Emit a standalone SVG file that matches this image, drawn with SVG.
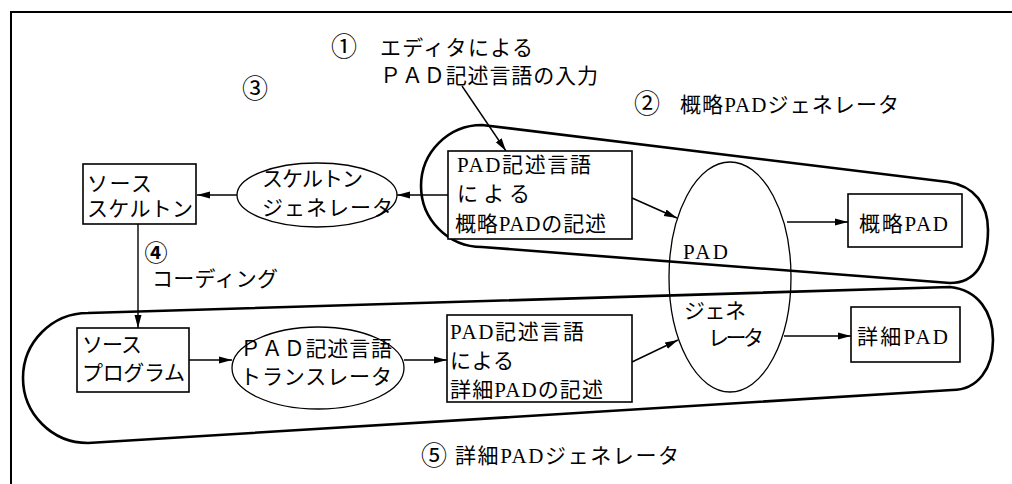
<svg xmlns="http://www.w3.org/2000/svg" width="1012" height="484" viewBox="0 0 1012 484">
<defs>
<marker id="ah" markerUnits="userSpaceOnUse" markerWidth="14" markerHeight="10" refX="13" refY="5" orient="auto">
<path d="M0,1.5 L13,5 L0,8.5 Z" fill="#000"/>
</marker>
</defs>
<style>
text{font-family:"Liberation Serif","Noto Sans CJK JP",serif;font-size:21px;fill:#000}
.num{font-family:"Noto Sans CJK JP",sans-serif;font-size:26px}
.box{fill:#fff;stroke:#000;stroke-width:1.6}
.ell{fill:#fff;stroke:#000;stroke-width:1.3}
.loop{fill:none;stroke:#000;stroke-width:2.6;stroke-linejoin:round}
.con{fill:none;stroke:#000;stroke-width:1.4;marker-end:url(#ah)}
</style>
<rect width="1012" height="484" fill="#fff"/>
<g id="frame"><path d="M11,484 L11,12 L1012,12" fill="none" stroke="#000" stroke-width="2"/></g>

<g id="regions">
<path class="loop" d="M482,125 L948,182 C975,186 988,205 988,230 C988,262 976,283 950,283 L482,247 A61,61 0 0 1 482,125 Z"/>
<path class="loop" d="M88,313 L950,287 C978,290 993,312 993,340 C993,368 978,390 952,390 L88,443 A65,65 0 0 1 88,313 Z"/>
</g>

<g id="labels">
<text class="num" x="344" y="56" text-anchor="middle">①</text>
<text x="380" y="55" textLength="153" lengthAdjust="spacing">エディタによる</text>
<text x="380" y="83" textLength="218" lengthAdjust="spacing">ＰＡＤ記述言語の入力</text>
<text class="num" x="647" y="113" text-anchor="middle">②</text>
<text x="680" y="112" textLength="219" lengthAdjust="spacing">概略PADジェネレータ</text>
<text class="num" x="255" y="98" text-anchor="middle">③</text>
<text class="num" x="156" y="261" text-anchor="middle" font-weight="bold" style="font-size:23px">④</text>
<text x="152" y="286" textLength="126" lengthAdjust="spacing">コーディング</text>
<text class="num" x="434" y="465" text-anchor="middle">⑤</text>
<text x="455" y="463" textLength="224" lengthAdjust="spacing">詳細PADジェネレータ</text>
</g>

<g id="connectors">
<line class="con" x1="462" y1="86" x2="506" y2="151"/>
<line class="con" x1="448" y1="195" x2="397" y2="195"/>
<line class="con" x1="237" y1="195" x2="197" y2="195"/>
<line class="con" x1="138" y1="224" x2="138" y2="328"/>
<line class="con" x1="189" y1="360" x2="232" y2="360"/>
<line class="con" x1="404" y1="360" x2="447" y2="360"/>
<line class="con" x1="632" y1="198" x2="677" y2="218"/>
<line class="con" x1="632" y1="362" x2="678" y2="340"/>
<line class="con" x1="787" y1="222" x2="848" y2="222"/>
<line class="con" x1="784" y1="336" x2="851" y2="336"/>
</g>

<g id="source-skeleton">
<rect class="box" x="83" y="164" width="113" height="60"/>
<text x="87" y="191" textLength="65" lengthAdjust="spacing">ソース</text>
<text x="87" y="216" textLength="106" lengthAdjust="spacing">スケルトン</text>
</g>

<g id="skeleton-generator">
<ellipse class="ell" cx="317" cy="195" rx="80" ry="32"/>
<text x="262" y="186" textLength="101" lengthAdjust="spacing">スケルトン</text>
<text x="262" y="215" textLength="131" lengthAdjust="spacing">ジェネレータ</text>
</g>

<g id="rough-description">
<rect class="box" x="448" y="151" width="184" height="88"/>
<text x="457" y="172" textLength="134" lengthAdjust="spacing">PAD記述言語</text>
<text x="457" y="201" textLength="73" lengthAdjust="spacing">による</text>
<text x="455" y="231" textLength="151" lengthAdjust="spacing">概略PADの記述</text>
</g>

<g id="pad-generator">
<ellipse class="ell" cx="730" cy="277" rx="61" ry="115" style="fill:none"/>
<text x="683" y="259" textLength="45" lengthAdjust="spacing">PAD</text>
<text x="684" y="318" textLength="62" lengthAdjust="spacing">ジェネ</text>
<text x="708" y="345" textLength="56" lengthAdjust="spacing">レータ</text>
</g>

<g id="rough-pad">
<rect class="box" x="848" y="194" width="114" height="53"/>
<text x="859" y="231" textLength="89" lengthAdjust="spacing">概略PAD</text>
</g>

<g id="source-program">
<rect class="box" x="77" y="328" width="112" height="64"/>
<text x="82" y="352" textLength="60" lengthAdjust="spacing">ソース</text>
<text x="82" y="380" textLength="103" lengthAdjust="spacing">プログラム</text>
</g>

<g id="translator">
<ellipse class="ell" cx="318" cy="368" rx="86" ry="41"/>
<text x="240" y="356" textLength="152" lengthAdjust="spacing">ＰＡＤ記述言語</text>
<text x="240" y="384" textLength="152" lengthAdjust="spacing">トランスレータ</text>
</g>

<g id="detail-description">
<rect class="box" x="447" y="315" width="185" height="87"/>
<text x="450" y="339" textLength="134" lengthAdjust="spacing">PAD記述言語</text>
<text x="450" y="368" textLength="64" lengthAdjust="spacing">による</text>
<text x="450" y="397" textLength="153" lengthAdjust="spacing">詳細PADの記述</text>
</g>

<g id="detail-pad">
<rect class="box" x="851" y="307" width="109" height="55"/>
<text x="857" y="344" textLength="91" lengthAdjust="spacing">詳細PAD</text>
</g>
</svg>
